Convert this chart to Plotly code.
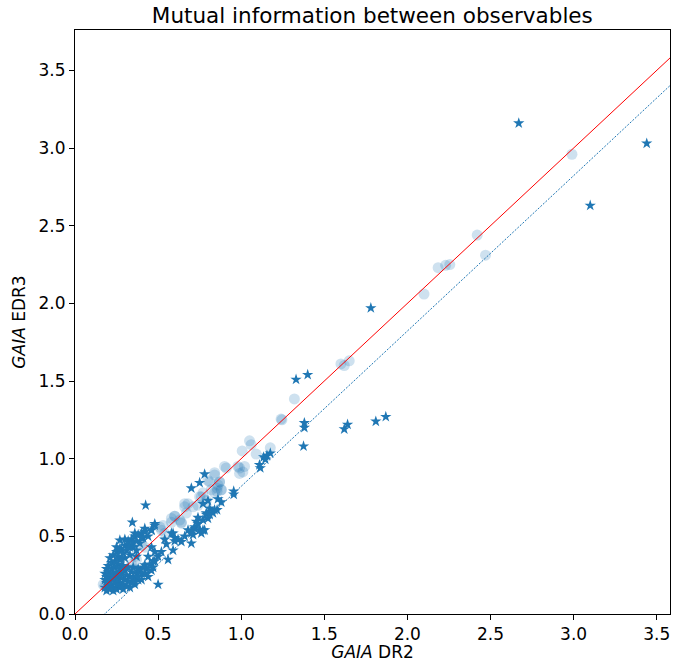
"""
Mutual information between observables - GAIA DR2 vs EDR3
"""

import numpy as np
import plotly.graph_objects as go

# star markers (solid)
star_dr2 = [
    2.67, 3.44, 3.10, 1.78, 1.33, 1.40, 1.38, 1.38, 1.375, 1.64, 1.62, 1.81, 1.87,
    1.175, 1.155, 1.135, 1.145, 1.11, 1.115, 0.955, 0.955,
    0.78, 0.75, 0.70, 0.77, 0.80, 0.81, 0.83, 0.855, 0.79, 0.80,
    0.73, 0.72, 0.70, 0.75, 0.77, 0.71, 0.59, 0.60, 0.54, 0.64, 0.70, 0.59,
    0.68, 0.72, 0.74, 0.77, 0.79, 0.81, 0.84, 0.76, 0.78, 0.70, 0.60, 0.58,
    0.425, 0.345, 0.48, 0.42, 0.46, 0.40, 0.36, 0.41, 0.30,
    0.27, 0.25, 0.28, 0.32, 0.35, 0.37, 0.39, 0.33, 0.30, 0.27, 0.37,
    0.46, 0.48, 0.44, 0.50, 0.47, 0.42, 0.46, 0.40, 0.38, 0.36, 0.50,
    0.18, 0.18, 0.18, 0.19, 0.19, 0.19, 0.19, 0.20, 0.20, 0.20, 0.21, 0.21, 0.21,
    0.22, 0.22, 0.22, 0.22, 0.23, 0.23, 0.23, 0.24, 0.24, 0.24, 0.25, 0.25, 0.25,
    0.26, 0.26, 0.26, 0.27, 0.27, 0.27, 0.28, 0.28, 0.29, 0.29, 0.29, 0.30, 0.30,
    0.31, 0.31, 0.32, 0.32, 0.33, 0.33, 0.34, 0.34, 0.35, 0.35, 0.36, 0.37, 0.38,
    0.38, 0.39, 0.40, 0.41, 0.42, 0.43, 0.44, 0.45, 0.47, 0.48,
    0.21, 0.23, 0.24, 0.25, 0.26, 0.27, 0.28, 0.29, 0.30, 0.31, 0.32, 0.33,
    0.34, 0.35, 0.36, 0.37, 0.38, 0.40, 0.42, 0.44, 0.46, 0.48,
    0.52, 0.55, 0.56, 0.62, 0.66, 0.74, 0.86, 0.88,
]
star_edr3 = [
    3.16, 3.03, 2.63, 1.97, 1.51, 1.54, 1.23, 1.20, 1.08, 1.22, 1.19, 1.24, 1.27,
    1.035, 1.02, 1.01, 0.995, 0.96, 0.94, 0.79, 0.77,
    0.90, 0.845, 0.81, 0.71, 0.73, 0.68, 0.65, 0.67, 0.64, 0.615,
    0.595, 0.55, 0.53, 0.54, 0.54, 0.51, 0.52, 0.49, 0.48, 0.465, 0.455, 0.41,
    0.54, 0.56, 0.58, 0.605, 0.65, 0.64, 0.67, 0.52, 0.54, 0.52, 0.47, 0.52,
    0.70, 0.59, 0.58, 0.55, 0.54, 0.52, 0.52, 0.49, 0.48,
    0.475, 0.43, 0.41, 0.44, 0.43, 0.41, 0.455, 0.38, 0.36, 0.35, 0.37,
    0.43, 0.40, 0.37, 0.37, 0.34, 0.315, 0.28, 0.26, 0.22, 0.19, 0.19,
    0.17, 0.22, 0.26, 0.15, 0.20, 0.24, 0.29, 0.18, 0.27, 0.31, 0.16, 0.21, 0.25,
    0.19, 0.23, 0.29, 0.33, 0.15, 0.17, 0.26, 0.21, 0.24, 0.30, 0.16, 0.19, 0.27,
    0.22, 0.25, 0.32, 0.17, 0.20, 0.29, 0.23, 0.26, 0.16, 0.19, 0.31, 0.22, 0.28,
    0.18, 0.25, 0.21, 0.30, 0.17, 0.24, 0.27, 0.20, 0.23, 0.30, 0.21, 0.26, 0.24,
    0.29, 0.27, 0.22, 0.30, 0.26, 0.29, 0.24, 0.32, 0.30, 0.34,
    0.36, 0.38, 0.34, 0.40, 0.37, 0.42, 0.36, 0.39, 0.44, 0.41, 0.47, 0.43,
    0.48, 0.46, 0.50, 0.47, 0.51, 0.49, 0.53, 0.50, 0.54, 0.57,
    0.40, 0.45, 0.35, 0.48, 0.50, 0.62, 0.74, 0.72,
]

# circle markers (translucent)
circ_dr2 = [
    2.99, 2.42, 2.47, 2.185, 2.23, 2.255, 2.10,
    1.32, 1.60, 1.62, 1.65, 1.245,
    1.24, 1.05, 1.06, 1.006, 1.09, 1.175, 0.91, 0.84, 0.99, 1.01, 0.87, 0.855, 0.82,
    0.90, 0.98, 0.99, 1.02, 0.84, 0.81, 0.87, 0.88, 0.77, 0.855,
    0.66, 0.71, 0.60, 0.64, 0.53, 0.58, 0.75, 0.79,
    0.80, 0.86, 0.88, 0.84, 0.76, 0.74, 0.68, 0.66, 0.67, 0.60, 0.58, 0.63, 0.64,
    0.51, 0.52, 0.54, 0.42, 0.37, 0.35, 0.34, 0.40, 0.36, 0.20, 0.17, 0.18, 0.22,
]
circ_edr3 = [
    2.96, 2.44, 2.31, 2.23, 2.245, 2.25, 2.06,
    1.385, 1.61, 1.60, 1.63, 1.25,
    1.255, 1.115, 1.09, 1.05, 1.03, 1.07, 0.94, 0.91, 0.94, 0.915, 0.85, 0.81, 0.80,
    0.95, 0.95, 0.905, 0.95, 0.895, 0.85, 0.85, 0.80, 0.78, 0.79,
    0.71, 0.69, 0.63, 0.59, 0.57, 0.59, 0.755, 0.73,
    0.86, 0.83, 0.80, 0.78, 0.755, 0.70, 0.71, 0.69, 0.65, 0.63, 0.615, 0.605, 0.585,
    0.56, 0.54, 0.52, 0.43, 0.35, 0.29, 0.32, 0.44, 0.37, 0.21, 0.19, 0.18, 0.25,
]

# dashed linear relation
fit_slope = 1.0
fit_intercept = -0.178

x_max = 3.58
y_max = 3.76

BLUE = '#1f77b4'

fig = go.Figure()

fig.add_trace(go.Scatter(
    x=circ_dr2, y=circ_edr3, mode='markers',
    marker=dict(symbol='circle', size=11, color='rgba(31,119,180,0.22)', line=dict(width=0)),
))
fig.add_trace(go.Scatter(
    x=star_dr2, y=star_edr3, mode='markers',
    marker=dict(symbol='star', size=8.5, color=BLUE, line=dict(width=0)),
))

xl = np.array([0.0, x_max])
fig.add_trace(go.Scatter(
    x=xl, y=xl, mode='lines',
    line=dict(color='red', width=1),
))
fig.add_trace(go.Scatter(
    x=xl, y=fit_slope * xl + fit_intercept, mode='lines',
    line=dict(color=BLUE, width=1, dash='2px,1.5px'),
))

axis_common = dict(
    showgrid=False, zeroline=False, automargin=False,
    showline=True, linecolor='black', linewidth=1, mirror=True,
    ticks='outside', ticklen=5, tickcolor='black', tickwidth=1,
    dtick=0.5, tickformat='.1f',
    tickfont=dict(size=17, color='black'),
)

fig.update_layout(
    width=694, height=662,
    margin=dict(l=75, r=24, t=30, b=48),
    plot_bgcolor='white',
    paper_bgcolor='white',
    font=dict(family='DejaVu Sans', color='black'),
    showlegend=False,
    title=dict(
        text='Mutual information between observables',
        x=0.5365, xanchor='center', y=0.976, yanchor='middle',
        font=dict(size=21.5, color='black'),
    ),
    xaxis=dict(range=[0, x_max], title=dict(text='<i>GAIA</i> DR2', font=dict(size=17), standoff=7), **axis_common),
    yaxis=dict(range=[0, y_max], title=dict(text='<i>GAIA</i> EDR3', font=dict(size=17), standoff=8), **axis_common),
)

# page body has a default margin; drop it so the figure sits at the window's corner
fig.write_html("out.html", config={'displayModeBar': False},
               post_script="document.body.style.margin='0';")
